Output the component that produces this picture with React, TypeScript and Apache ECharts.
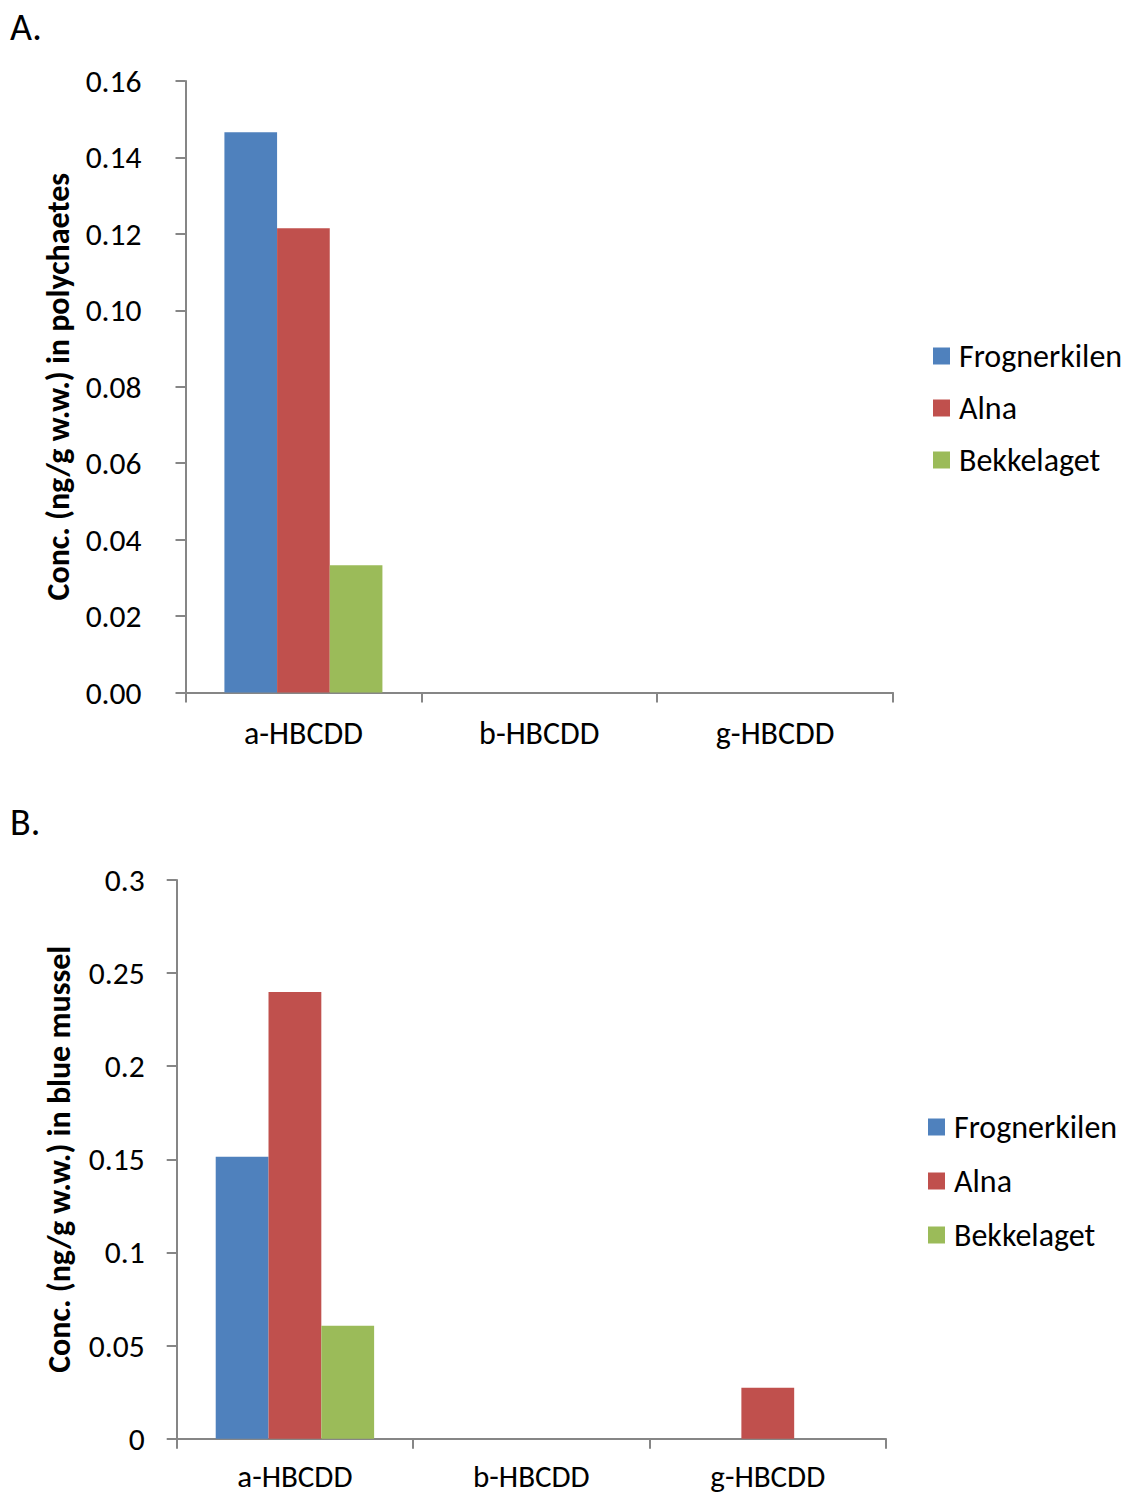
import React, { useEffect, useRef } from "react";
import * as echarts from "echarts";

const categories = ["a-HBCDD", "b-HBCDD", "g-HBCDD"];
const seriesNames = ["Frognerkilen", "Alna", "Bekkelaget"];
const colors = ["#4F81BD", "#C0504D", "#9BBB59"];

// Panel A: polychaetes
const polyFrognerkilen = [0.1466, 0, 0];
const polyAlna = [0.1215, 0, 0];
const polyBekkelaget = [0.0333, 0, 0];

// Panel B: blue mussel
const musselFrognerkilen = [0.1514, 0, 0];
const musselAlna = [0.2399, 0, 0.0274];
const musselBekkelaget = [0.0607, 0, 0];

const FONT = "Carlito, Lato, 'Noto Sans', sans-serif";
const AXIS_COLOR = "#868686";
const FS = 32;
const TICK_FS = 31.5;

export default function App() {
  const ref = useRef<HTMLDivElement>(null);
  useEffect(() => {
    if (!ref.current) return;
    const chart = echarts.init(ref.current, null, { renderer: "svg" });
    const xAxisBase = (gridIndex: number, fs: number, margin: number) => ({
      type: "category",
      gridIndex,
      data: categories,
      axisLine: { lineStyle: { color: AXIS_COLOR, width: 2 } },
      axisTick: { show: true, length: 10, alignWithLabel: false, lineStyle: { color: AXIS_COLOR, width: 2 } },
      axisLabel: { color: "#000", fontSize: fs, lineHeight: 30, fontFamily: FONT, margin },
      splitLine: { show: false },
    });
    const yAxisBase = (gridIndex: number, max: number, interval: number, decimals: number | null, name: string, labelMargin: number, nameGap: number) => ({
      type: "value",
      gridIndex,
      min: 0,
      max,
      interval,
      name,
      nameLocation: "middle",
      nameGap,
      nameTextStyle: { color: "#000", fontSize: 32, fontWeight: "bold", fontFamily: FONT },
      axisLine: { show: true, lineStyle: { color: AXIS_COLOR, width: 2 } },
      axisTick: { show: true, length: 10, lineStyle: { color: AXIS_COLOR, width: 2 } },
      axisLabel: {
        color: "#000",
        fontSize: TICK_FS,
        fontFamily: FONT,
        margin: labelMargin,
        formatter: (v: number) => (decimals === null ? String(Math.round(v * 100) / 100) : v.toFixed(decimals)),
      },
      splitLine: { show: false },
    });
    const bar = (name: string, data: number[], idx: number, c: number) => ({
      type: "bar",
      name,
      xAxisIndex: idx,
      yAxisIndex: idx,
      data,
      barGap: "0%",
      barCategoryGap: "33%",
      itemStyle: { color: colors[c] },
    });
    const legendBase = (left: number, top: number, gap: number) => ({
      orient: "vertical",
      left,
      top,
      padding: 0,
      itemWidth: 17,
      itemHeight: 17,
      itemGap: gap,
      icon: "rect",
      textStyle: { color: "#000", fontSize: FS, fontFamily: FONT, lineHeight: 30, padding: [0, 0, 0, 4] },
      data: seriesNames,
    });
    chart.setOption({
      animation: false,
      backgroundColor: "#fff",
      textStyle: { fontFamily: FONT },
      grid: [
        { left: 185.5, top: 81, width: 707.5, height: 611.5 },
        { left: 176.7, top: 880, width: 709.3, height: 558.7 },
      ],
      xAxis: [xAxisBase(0, FS, 26), xAxisBase(1, 31, 22)],
      yAxis: [
        yAxisBase(0, 0.16, 0.02, 2, "Conc. (ng/g w.w.) in polychaetes", 44, 110),
        yAxisBase(1, 0.3, 0.05, null, "Conc. (ng/g w.w.) in blue mussel", 32, 101),
      ],
      legend: [legendBase(933, 340, 20), legendBase(928, 1111, 22)],
      graphic: [
        { type: "text", left: 10, top: 8, style: { text: "A.", fontSize: 38, fontFamily: FONT, fill: "#000" } },
        { type: "text", left: 10, top: 803, style: { text: "B.", fontSize: 38, fontFamily: FONT, fill: "#000" } },
      ],
      series: [
        bar(seriesNames[0], polyFrognerkilen, 0, 0),
        bar(seriesNames[1], polyAlna, 0, 1),
        bar(seriesNames[2], polyBekkelaget, 0, 2),
        bar(seriesNames[0], musselFrognerkilen, 1, 0),
        bar(seriesNames[1], musselAlna, 1, 1),
        bar(seriesNames[2], musselBekkelaget, 1, 2),
      ],
    });
    return () => chart.dispose();
  }, []);
  return (
    <div
      ref={ref}
      style={{ position: "absolute", left: 0, top: 0, width: 1125, height: 1497, background: "#fff" }}
    />
  );
}
